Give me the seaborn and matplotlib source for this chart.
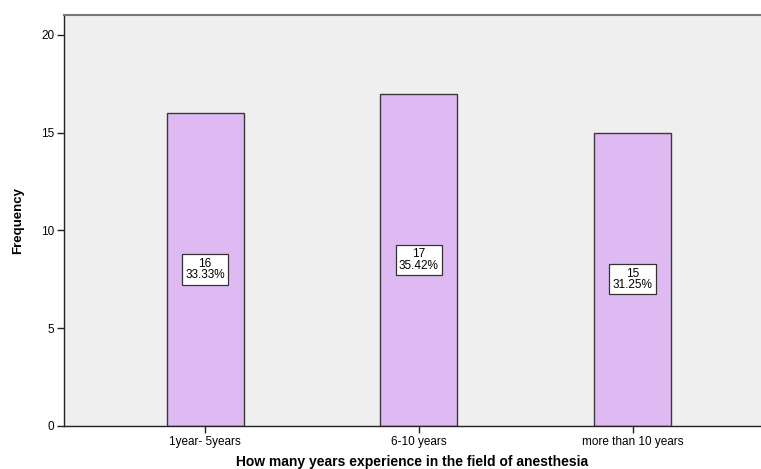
import matplotlib
matplotlib.use("Agg")
import matplotlib.pyplot as plt
import seaborn as sns
import pandas as pd

categories = ["1year- 5years", "6-10 years", "more than 10 years"]
counts = [16, 17, 15]
percents = ["33.33%", "35.42%", "31.25%"]

df = pd.DataFrame({"experience": categories, "count": counts})

sns.set_style("white")
plt.rcParams["font.family"] = ["Liberation Sans", "DejaVu Sans"]

fig = plt.figure(figsize=(7.61, 4.69), dpi=100)
ax = fig.add_axes([0.0841, 0.0917, 0.9159, 0.8763])
ax.set_facecolor("#efefef")

sns.barplot(data=df, x="experience", y="count", ax=ax, color="#dfbaf2",
            saturation=1, width=0.36, edgecolor="#3a3a3a", linewidth=1.0)

# boxed labels in the middle of each bar
for i, (c, p) in enumerate(zip(counts, percents)):
    ax.text(i, c / 2, f"{c}\n{p}", ha="center", va="center", fontsize=8.5,
            linespacing=0.95, color="black",
            bbox=dict(boxstyle="square,pad=0.28", facecolor="white",
                      edgecolor="#333333", linewidth=0.9))

ax.set_xlim(-0.66, 2.6)
ax.set_ylim(0, 21.02)
ax.set_yticks([0, 5, 10, 15, 20])
ax.tick_params(axis="both", direction="out", length=5, width=1, labelsize=8.5,
               left=True, bottom=True, colors="#222222", labelcolor="black",
               pad=2)

for side in ["left", "bottom"]:
    ax.spines[side].set_color("#222222")
    ax.spines[side].set_linewidth(1)
ax.spines["top"].set_color("#777777")
ax.spines["top"].set_linewidth(1.5)
ax.spines["right"].set_visible(False)

ax.set_xlabel("How many years experience in the field of anesthesia",
              fontsize=10, fontweight="bold", labelpad=5, color="black")
ax.set_ylabel("Frequency", fontsize=9.5, fontweight="bold", labelpad=12,
              color="black")

fig.savefig("out.png", dpi=100)
